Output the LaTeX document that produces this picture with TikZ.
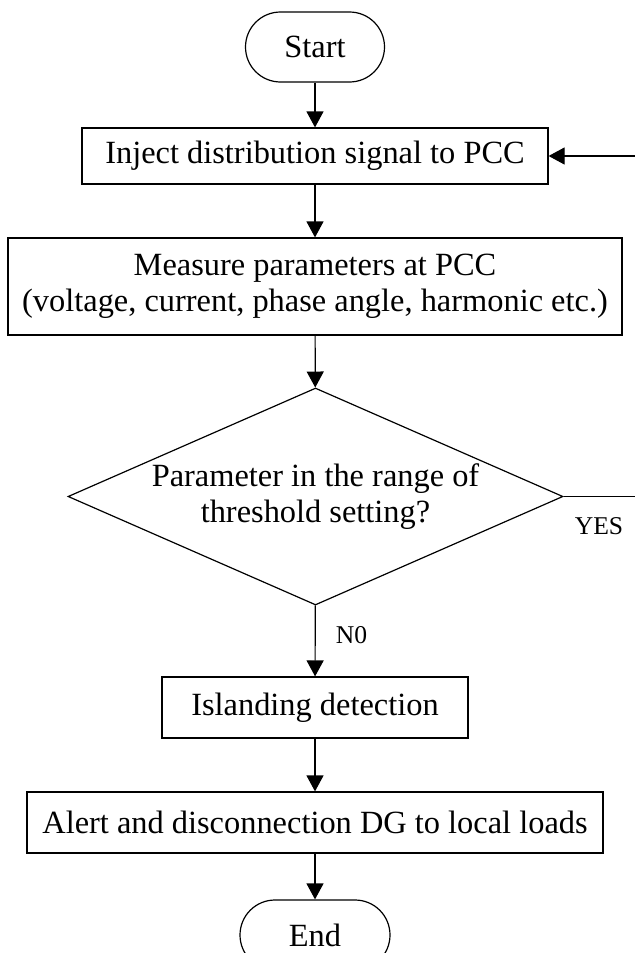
\documentclass[tikz,border=0pt]{standalone}
\usepackage{fontspec}
\setmainfont{Liberation Serif}
\usetikzlibrary{shapes.geometric, arrows.meta}

\begin{document}
\begin{tikzpicture}[x=0.5pt, y=-0.5pt, line width=0.6pt,
  font=\fontsize{16.2}{18}\selectfont,
  box/.style={draw, rectangle, inner sep=0pt, align=center},
  term/.style={draw, rectangle, rounded corners=17.5pt, inner sep=0pt, minimum height=35pt},
  decision/.style={draw, diamond, aspect=2.28, inner sep=0pt, align=center},
  arr/.style={-{Triangle[length=8pt, width=8.5pt]}},
  tag/.style={inner sep=0pt, font=\fontsize{12.8}{15}\selectfont}]
\useasboundingbox (0,0) rectangle (635,953);
\node[term, minimum width=69.5pt] (start) at (315,47) {Start};
\node[box, minimum width=233pt, minimum height=28pt] (inject) at (315,156) {Inject distribution signal to PCC};
\node[box, minimum width=307pt, minimum height=48.5pt] (measure) at (315,286.5) {Measure parameters at PCC\\(voltage, current, phase angle, harmonic etc.)};
\node[decision, minimum width=247.5pt, minimum height=108.5pt] (check) at (315.5,496.5) {Parameter in the range of\\threshold setting?};
\node[box, minimum width=153pt, minimum height=30.5pt] (island) at (315,707.5) {Islanding detection};
\node[box, minimum width=288pt, minimum height=30.5pt] (alert) at (315,822.5) {Alert and disconnection DG to local loads};
\node[term, minimum width=75pt] (end) at (315,935) {End};
\node[tag] (yes) at (599,526) {YES};
\draw[arr] (start) -- (inject);
\draw[arr] (inject) -- (measure);
\draw[arr] (measure) -- (check);
\draw[arr] (check) -- node[tag, pos=0.42, anchor=west, xshift=10pt] (no) {N0} (island);
\draw[arr] (island) -- (alert);
\draw[arr] (alert) -- (end);
\draw[arr] (check.east) -- (640,496.5) |- (inject.east);
\end{tikzpicture}
\end{document}
